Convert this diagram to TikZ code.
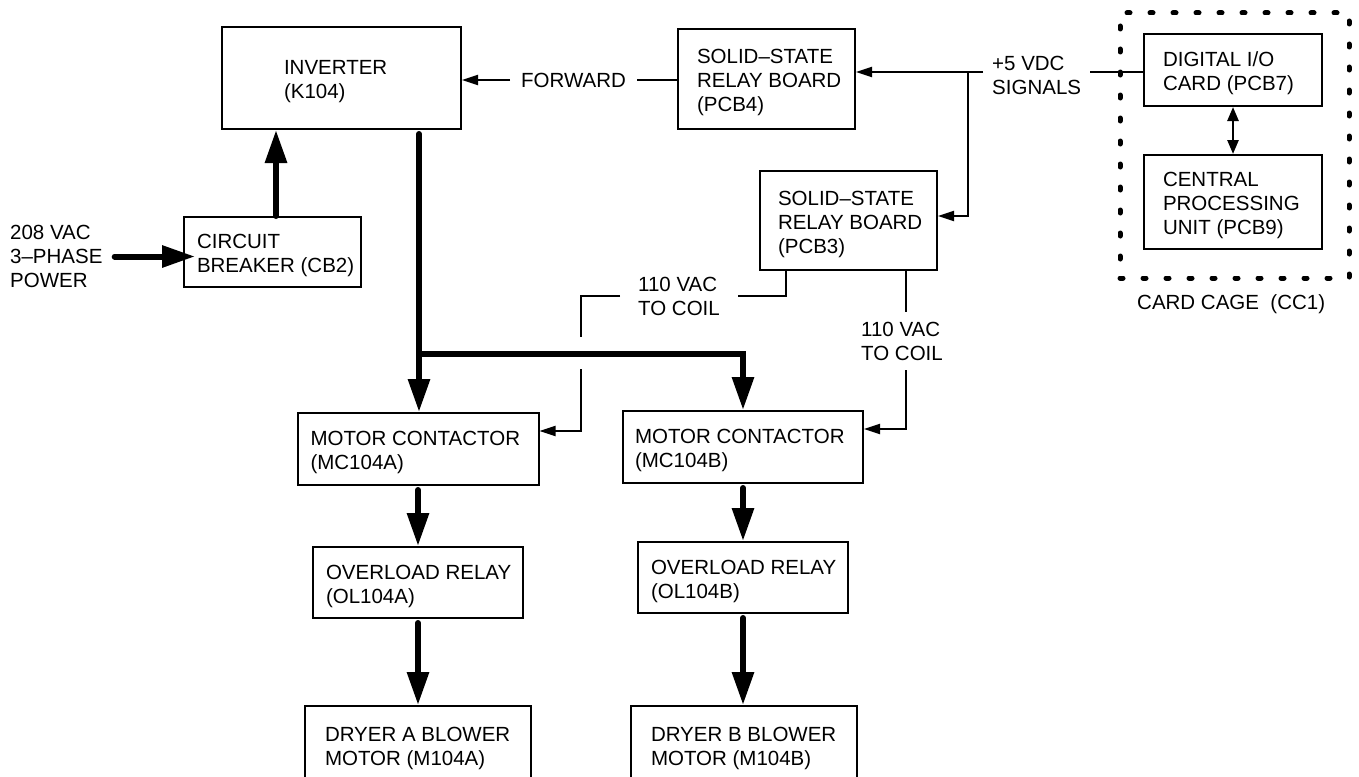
\documentclass[tikz,border=0pt]{standalone}
\usepackage{fontspec}
\setmainfont{Liberation Sans}
\usetikzlibrary{arrows.meta}
\newcommand\fnt{\fontsize{20.5}{24}\selectfont}
\newcommand\btext[2]{\raisebox{-4pt}[\height][\depth]{\makebox[#1][l]{\begin{tabular}{@{}l@{}}#2\end{tabular}}}}
\tikzset{
  box/.style={draw, line width=2pt, inner sep=0pt, font=\fnt},
  txt/.style={inner sep=0pt, font=\fnt, align=left},
  thn/.style={line width=2pt},
  thnarrow/.style={line width=2pt, -{Triangle[length=16pt,width=10pt]}},
  thk/.style={line width=6pt, line cap=round},
  thkarrow/.style={line width=6pt, line cap=round, -{Triangle[length=33pt,width=21pt]}},
  cagebox/.style={draw, line width=5pt, dash pattern=on 3pt off 20pt, line cap=round, inner sep=0pt},
}
\begin{document}
\begin{tikzpicture}[x=1pt, y=-1pt]
\fill[white] (0,0) rectangle (1359,776);
\useasboundingbox (0,0) rectangle (1359,776);

% boxes
\node[box, minimum width=239pt, minimum height=102pt] (inv) at (341.5,78) {\btext{115pt}{INVERTER\\(K104)}};
\node[box, minimum width=177pt, minimum height=70pt] (cb) at (272.5,252) {\btext{151pt}{CIRCUIT\\BREAKER (CB2)}};
\node[box, minimum width=177pt, minimum height=100pt] (pcb4) at (766.5,79) {\btext{139pt}{SOLID--STATE\\RELAY BOARD\\(PCB4)}};
\node[box, minimum width=177pt, minimum height=99pt] (pcb3) at (848.5,220.5) {\btext{141pt}{SOLID--STATE\\RELAY BOARD\\(PCB3)}};
\node[box, minimum width=178pt, minimum height=72pt] (dio) at (1233,70) {\btext{140pt}{DIGITAL I/O\\CARD (PCB7)}};
\node[box, minimum width=178pt, minimum height=94pt] (cpu) at (1233,202) {\btext{140pt}{CENTRAL\\PROCESSING\\UNIT (PCB9)}};
\node[box, minimum width=241pt, minimum height=72pt] (mca) at (418,449) {\btext{215pt}{MOTOR CONTACTOR\\(MC104A)}};
\node[box, minimum width=240pt, minimum height=72pt] (mcb) at (743,447) {\btext{216pt}{MOTOR CONTACTOR\\(MC104B)}};
\node[box, minimum width=210pt, minimum height=71pt] (ola) at (418,582.5) {\btext{184pt}{OVERLOAD RELAY\\(OL104A)}};
\node[box, minimum width=210pt, minimum height=71pt] (olb) at (743,577.5) {\btext{184pt}{OVERLOAD RELAY\\(OL104B)}};
\node[box, minimum width=226pt, minimum height=78pt] (dra) at (418,745) {\btext{186pt}{DRYER A BLOWER\\MOTOR (M104A)}};
\node[box, minimum width=226pt, minimum height=78pt] (drb) at (744,745) {\btext{186pt}{DRYER B BLOWER\\MOTOR (M104B)}};

% card cage
\node[cagebox, minimum width=229pt, minimum height=265pt] (cage) at (1234.5,145.5) {};
\node[txt, anchor=west] (cagelbl) at (1137,304) {CARD CAGE\ \ (CC1)};

% free labels
\node[txt, anchor=west] (pw) at (10,256.5) {208 VAC\\3--PHASE\\POWER};
\node[txt, inner xsep=11pt, anchor=west] (fwd) at (510,80) {FORWARD};
\node[txt, inner xsep=9pt, anchor=west] (sig) at (983,75) {+5 VDC\\SIGNALS};
\node[txt, inner xsep=18pt, anchor=west] (coil1) at (620,296) {110 VAC\\TO COIL};
\node[txt, inner ysep=10pt] (coil2) at (902,341) {110 VAC\\TO COIL};

% helper coordinates
\coordinate (jA) at (419,354);
\coordinate (s5) at (968,72);
\coordinate (ka) at (786,0);
\coordinate (kb) at (906,0);
\coordinate (gA1) at (581,337);
\coordinate (gA2) at (581,369);

% power path
\draw[thkarrow] ([xshift=12pt]pw.east) -- ([xshift=12pt]pw.east -| cb.west);
\draw[thkarrow] ([xshift=3.5pt]cb.north) -- ([xshift=3.5pt]cb.north |- inv.south);
\draw[thk, shorten <=4pt] (jA |- inv.south) -- (jA);
\draw[thkarrow] (jA) -- (jA |- mca.north);
\draw[thkarrow] (jA) -| (mcb.north);
\draw[thkarrow, shorten <=4pt] (mca.south) -- (ola.north);
\draw[thkarrow, shorten <=4pt] (ola.south) -- (dra.north);
\draw[thkarrow, shorten <=4pt] (mcb.south) -- (olb.north);
\draw[thkarrow, shorten <=4pt] (olb.south) -- (olb.south |- drb.north);

% control signals
\draw[thn] (fwd.east) -- (fwd.east -| pcb4.west);
\draw[thnarrow] (fwd.west) -- (fwd.west -| inv.east);
\draw[thnarrow] (s5 -| sig.west) -- (s5 -| pcb4.east);
\draw[thnarrow] (s5) |- ([yshift=4.5pt]pcb3.east);
\draw[thn] (s5 -| sig.east) -- (s5 -| dio.west);
\draw[line width=2.5pt, {Triangle[length=14pt,width=11pt]}-{Triangle[length=14pt,width=11pt]}] (dio.south) -- (cpu.north);

% coil feeds
\draw[thn] (ka |- pcb3.south) |- (coil1.east);
\draw[thn] (coil1.west) -| (gA1);
\draw[thnarrow] (gA2) |- ([yshift=18pt]mca.east);
\draw[thn] (kb |- pcb3.south) -- (kb |- coil2.north);
\draw[thnarrow] (kb |- coil2.south) |- ([yshift=18pt]mcb.east);
\end{tikzpicture}
\end{document}
